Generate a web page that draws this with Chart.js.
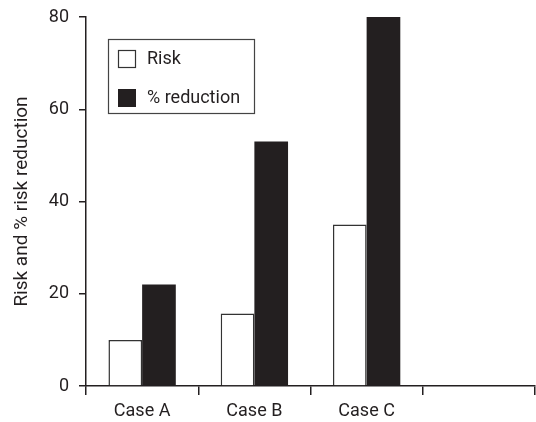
<!DOCTYPE html>
<html>
<head>
<meta charset="utf-8">
<script src="https://cdn.jsdelivr.net/npm/chart.js@4/dist/chart.umd.min.js"></script>
<style>
html,body{margin:0;padding:0;background:#fff;}
#wrap{width:536px;height:422px;}
</style>
</head>
<body>
<div id="wrap"><canvas id="c" width="536" height="422"></canvas></div>
<script>
const categories = ['Case A', 'Case B', 'Case C', ''];
const riskValues = [10, 15.7, 35, null];
const reductionValues = [22, 53, 80, null];
const yTicks = [0, 20, 40, 60, 80];
const seriesNames = ['Risk', '% reduction'];

const FONT = 'Roboto';
const INK = '#231f20';

const boxLegend = {
  id: 'boxLegend',
  afterDraw(chart) {
    const ctx = chart.ctx;
    const x0 = 108, y0 = 39, w = 146, h = 74;
    ctx.save();
    ctx.lineWidth = 1.2;
    ctx.strokeStyle = '#444';
    ctx.strokeRect(x0 + 0.5, y0 + 0.5, w, h);
    ctx.font = '18px ' + FONT;
    ctx.textBaseline = 'middle';
    ctx.textAlign = 'left';
    chart.data.datasets.forEach((ds, i) => {
      const sy = y0 + 11 + i * 39;
      ctx.fillStyle = ds.backgroundColor;
      ctx.fillRect(x0 + 10, sy, 18, 18);
      if (ds.borderWidth) {
        ctx.strokeStyle = ds.borderColor;
        ctx.lineWidth = 1.2;
        ctx.strokeRect(x0 + 10.5, sy + 0.5, 17, 17);
      }
      ctx.fillStyle = INK;
      ctx.fillText(ds.label, x0 + 39, sy + 9);
    });
    ctx.restore();
  }
};

new Chart(document.getElementById('c'), {
  type: 'bar',
  data: {
    labels: categories,
    datasets: [
      { label: seriesNames[0], data: riskValues, backgroundColor: '#ffffff', borderColor: '#333333', borderWidth: 1.5 },
      { label: seriesNames[1], data: reductionValues, backgroundColor: INK, borderWidth: 0 }
    ]
  },
  options: {
    responsive: false,
    animation: false,
    devicePixelRatio: 1,
    layout: { padding: { top: 17, right: 1, left: 0, bottom: 0 } },
    datasets: { bar: { categoryPercentage: 0.6, barPercentage: 1.0 } },
    plugins: { legend: { display: false }, tooltip: { enabled: false } },
    scales: {
      x: {
        offset: true,
        grid: { offset: true, drawOnChartArea: false, drawTicks: true, tickLength: 9, color: INK, lineWidth: 1.5 },
        border: { display: true, color: INK, width: 1.5 },
        ticks: { color: INK, font: { family: FONT, size: 18 }, padding: 6 },
        afterFit(s) { s.height = 36; s.paddingLeft = 0; s.paddingRight = 0; }
      },
      y: {
        min: 0, max: 80,
        afterBuildTicks(s) { s.ticks = yTicks.map(v => ({ value: v })); },
        grid: { drawOnChartArea: false, drawTicks: true, tickLength: 7, color: INK, lineWidth: 1.5 },
        border: { display: true, color: INK, width: 1.5 },
        ticks: { color: INK, font: { family: FONT, size: 18 }, padding: 10 },
        title: { display: true, text: 'Risk and % risk reduction', color: INK, font: { family: FONT, size: 19 }, padding: { top: 11, bottom: 0 } },
        afterFit(s) { s.width = 86; s.paddingTop = 0; s.paddingBottom = 0; }
      }
    }
  },
  plugins: [boxLegend]
});
</script>
</body>
</html>
